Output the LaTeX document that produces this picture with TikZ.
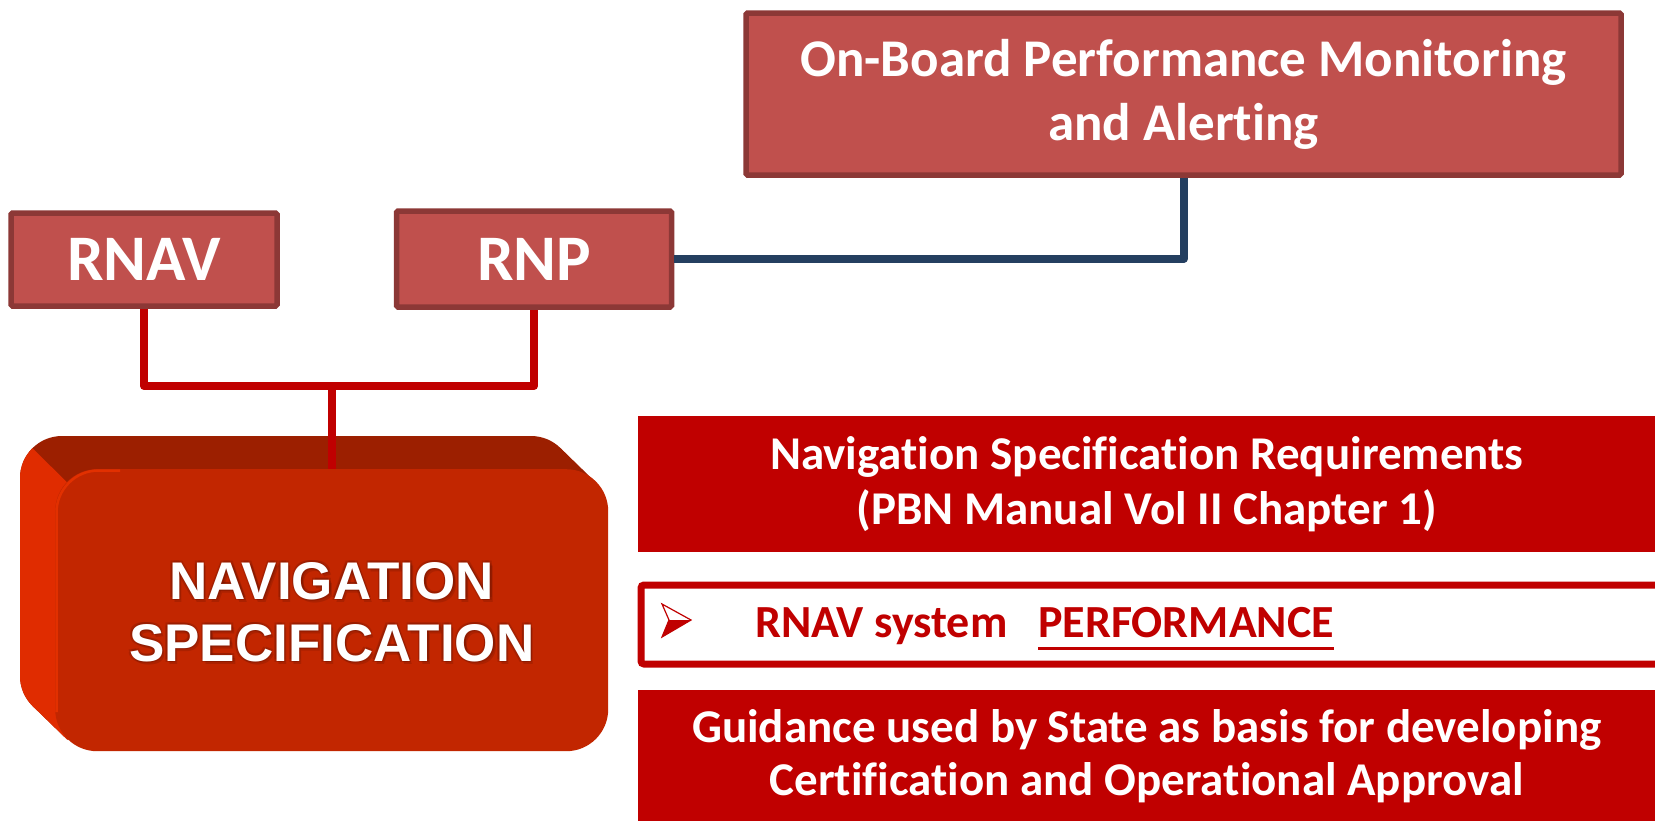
\documentclass[tikz,border=0pt]{standalone}
\usepackage{fontspec}
\newfontfamily\calib[Ligatures=NoCommon]{Carlito}
\newfontfamily\arialf{Liberation Sans}
\usetikzlibrary{calc}

\definecolor{boxfill}{HTML}{C0504D}
\definecolor{boxline}{HTML}{8C3836}
\definecolor{bandred}{HTML}{C00000}
\definecolor{navy}{HTML}{243F60}
\definecolor{topface}{HTML}{9C1F00}
\definecolor{sideface}{HTML}{E02C00}
\definecolor{frontface}{HTML}{C22600}
\definecolor{rim}{HTML}{E23000}
\definecolor{textshade}{HTML}{5A1000}

\begin{document}
\begin{tikzpicture}[x=1pt,y=-1pt,
  catbox/.style={draw=boxline, line width=5.5pt, fill=boxfill, text=white,
    inner sep=0pt, rounded corners=1.5pt, align=center},
  catfont/.style={font=\calib\bfseries\fontsize{65}{74}\selectfont},
  bandbox/.style={fill=bandred, text=white, inner sep=0pt, align=center,
    anchor=north west, font=\calib\bfseries\fontsize{47}{55}\selectfont},
  outlinebox/.style={draw=bandred, line width=7pt, fill=white, inner sep=0pt,
    rounded corners=3pt, anchor=north west},
  perftext/.style={text=bandred, inner sep=0pt, anchor=base west,
    font=\calib\bfseries\fontsize{46}{55}\selectfont},
  navtext/.style={text=white, align=center, inner sep=0pt,
    font=\arialf\bfseries\fontsize{53}{62}\selectfont},
  redlink/.style={draw=bandred, line width=8pt, line join=round},
  bluelink/.style={draw=navy, line width=8pt, line join=round}]
\useasboundingbox (0,0) rectangle (1655,820);

% category boxes
\node[catbox, minimum width=875pt, minimum height=162pt,
  font=\calib\bfseries\fontsize{53}{64}\selectfont] (obpma) at (1183.5,94)
  {On-Board Performance Monitoring\\and Alerting};
\node[catbox, catfont, minimum width=266pt, minimum height=93pt] (rnav) at (144,259.5) {RNAV};
\node[catbox, catfont, minimum width=275pt, minimum height=96pt] (rnp) at (534,259) {RNP};

% extruded block: back face, side hull, lighter left face
\fill[topface, rounded corners=42pt] (20,436) rectangle (573,718);
\fill[topface] (560.7,448.3) -- (595.7,482.3) -- (67.3,739.7) -- (32.3,705.7) -- cycle;
\begin{scope}
  \clip (-20,396) -- (120,535) -- (120,820) -- (-20,820) -- cycle;
  \fill[sideface, rounded corners=42pt] (20,436) rectangle (573,718);
  \fill[sideface] (560.7,448.3) -- (595.7,482.3) -- (67.3,739.7) -- (32.3,705.7) -- cycle;
\end{scope}

% front face of the block
\node[fill=frontface, rounded corners=42pt, inner sep=0pt, anchor=north west,
  minimum width=553pt, minimum height=282pt] (nav) at (55,469) {};
\draw[rim, line width=2.5pt, rounded corners=42pt] (56.5,712) -- (56.5,470.5) -- (120,470.5);
% soft shadow round the white label
\foreach \dx/\dy in {1.5/1.5,-1.5/1.5,1.5/-1.5,-1.5/-1.5,2.5/3}
  \node[navtext, text=textshade, opacity=0.22] at ($(nav.center)+(\dx,\dy)+(0,2)$)
    {NAVIGATION\\SPECIFICATION};
\node[navtext] (navlabel) at ($(nav.center)+(0,2)$) {NAVIGATION\\SPECIFICATION};

% connectors
\coordinate (join) at (nav.north |- 0,386);
\draw[redlink] (rnav.south) |- (join) -| (rnp.south);
\draw[redlink] (join) -- (nav.north);
\draw[bluelink] (rnp.east) -| (obpma.south);

% requirement bands
\node[bandbox, minimum width=1017pt, minimum height=136pt] (req) at (638,416)
  {Navigation Specification Requirements\\(PBN Manual Vol II Chapter 1)};
\node[outlinebox, minimum width=1040pt, minimum height=79pt] (perf) at (637.5,581.5) {};
\node[bandbox, minimum width=1017pt, minimum height=132pt, font=\calib\bfseries\fontsize{47}{53}\selectfont] (guide) at (638,690)
  {Guidance used by State as basis for developing\\Certification and Operational Approval};

% bullet arrowhead
\coordinate (atop) at (662,604);
\coordinate (atip) at (691,620);
\coordinate (anotch) at (669,620);
\coordinate (abot) at (662,637);
\fill[bandred] (anotch) -- (atip) -- (abot) -- cycle;
\draw[bandred, line width=1.2pt, line join=miter] (atop) -- (atip) -- (abot) -- (anotch) -- cycle;

\node[perftext] (rnavsys) at (755,637) {RNAV system};
\node[perftext] (perfword) at (1038,637) {PERFORMANCE};
\draw[bandred, line width=3pt] ($(perfword.base west)+(0,11)$) -- ($(perfword.base east)+(0,11)$);
\end{tikzpicture}
\end{document}
